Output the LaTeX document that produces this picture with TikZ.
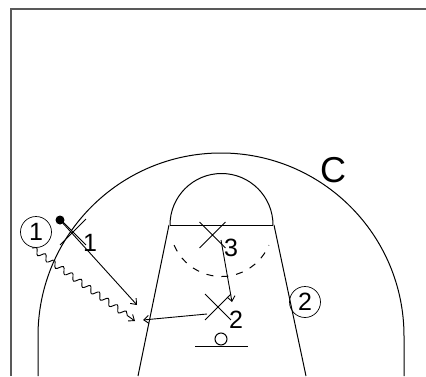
\documentclass[tikz,border=0pt]{standalone}
\usepackage{fontspec}
\setmainfont{Liberation Sans}
\usetikzlibrary{arrows.meta,decorations.pathmorphing,shapes.misc}
\begin{document}
\begin{tikzpicture}[x=1pt,y=1pt,
  court/.style={line width=1pt,black},
  player/.style={circle,draw,line width=0.7pt,minimum size=31pt,inner sep=0pt,font=\fontsize{25}{25}\selectfont},
  defender/.style={cross out,draw,line width=0.9pt,minimum size=25pt,inner sep=0pt},
  lbl/.style={font=\fontsize{25}{25}\selectfont,inner sep=0pt},
  move/.style={line width=0.9pt,-{Straight Barb[length=5pt,width=8pt]}},
  dribble/.style={line width=0.9pt,-{Straight Barb[length=5pt,width=8pt]},decorate,
     decoration={snake,amplitude=3pt,segment length=11pt,post length=6pt}}]
\useasboundingbox (0,0) rectangle (426,376);
\fill[white] (0,0) rectangle (426,376);
% frame
\draw[line width=2.2pt,black!65] (11,0) -- (11,367) -- (426,367);
% three point line
\draw[court] (38,0) -- (38,40) arc[start angle=180,end angle=0,radius=183] -- (404,0);
% lane
\draw[court] (170,151) -- (273,151);
\draw[court] (169,151) -- (138,0);
\draw[court] (274,151) -- (306,0);
\draw[court] (170,151) arc[start angle=180,end angle=0,radius=51.5];
\draw[court,dash pattern=on 7pt off 8pt] (221.5,151) ++(203:51.5) arc[start angle=203,end angle=337,radius=51.5];
% basket
\draw[court] (195,30) -- (248,30);
\draw[court] (221,37) circle[radius=6];
% players
\node[player] (p1) at (36,144) {1};
\node[player] (p2) at (305,74) {2};
\fill (60,156) circle[radius=4.5];
\coordinate (ball) at (60,156);
% defenders
\node[defender] (x1) at (73,144) {};
\node[defender] (x3) at (212.5,141) {};
\node[defender] (x2) at (218,69) {};
\node[lbl] (l1) at (90,133) {1};
\node[lbl] (l3) at (231,128) {3};
\node[lbl] (l2) at (236,56) {2};
\node[font=\fontsize{36}{36}\selectfont,inner sep=0pt] (c) at (333,206) {C};
% movements
\coordinate (passEnd) at (137,71);
\coordinate (dribStart) at (32,128);
\coordinate (dribEnd) at (135,55);
\coordinate (x3start) at (221,136);
\coordinate (x3end) at (232,74);
\coordinate (x2start) at (207,62);
\coordinate (x2end) at (143,56);
\draw[move] (ball) -- (passEnd);
\draw[dribble] (dribStart) -- (dribEnd);
\draw[move] (x3start) -- (x3end);
\draw[move] (x2start) -- (x2end);
\end{tikzpicture}
\end{document}
